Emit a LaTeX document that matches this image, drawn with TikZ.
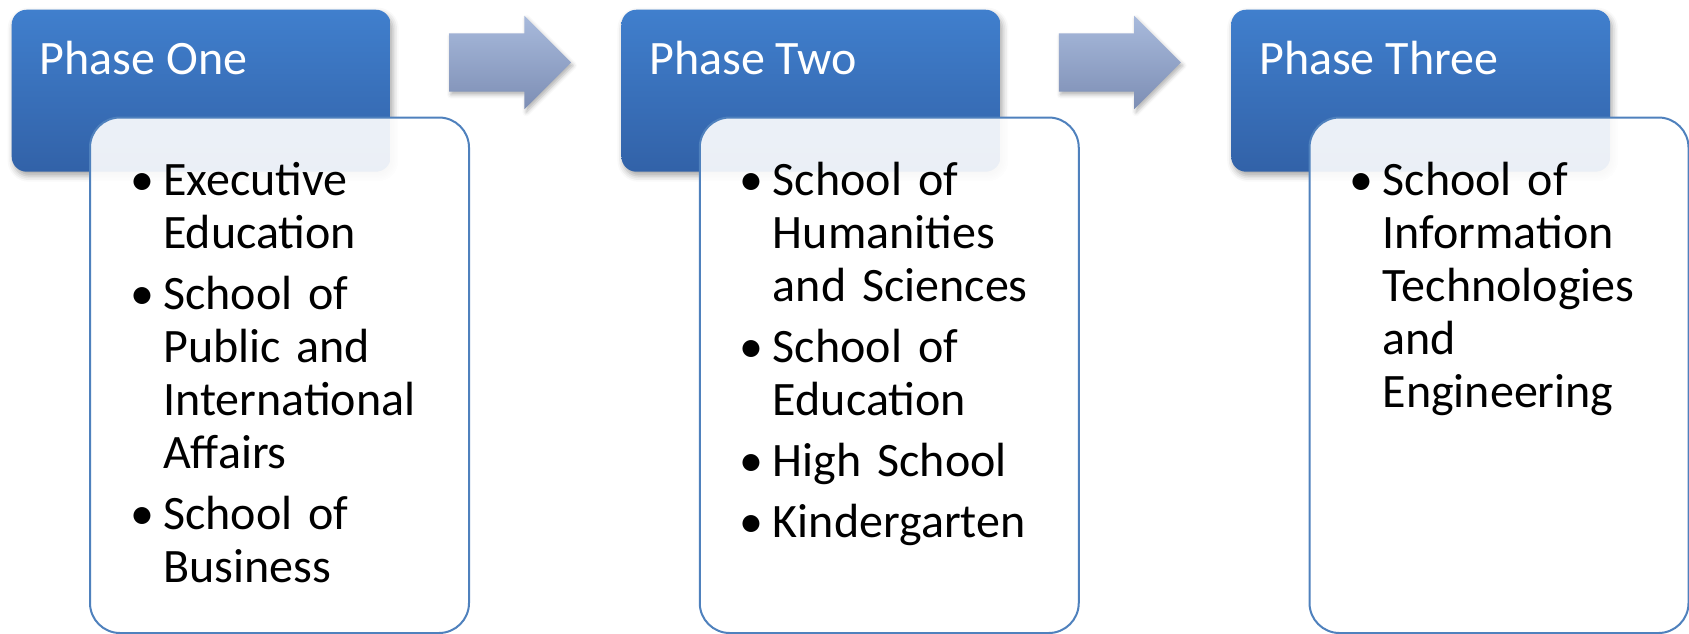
\documentclass[tikz,border=0pt]{standalone}
\usepackage{fontspec}
\setmainfont{Carlito}
\usetikzlibrary{shapes.arrows,calc,shadows.blur}

\definecolor{headtop}{RGB}{64,127,205}
\definecolor{headbottom}{RGB}{50,98,168}
\definecolor{bodyline}{RGB}{79,129,189}
\definecolor{arrowtop}{RGB}{168,186,220}
\definecolor{arrowbottom}{RGB}{125,142,180}

\newcommand{\phaseitem}[1]{\hangindent=33pt\hangafter=1\noindent\makebox[33pt][l]{\textbullet}#1\par}

\begin{document}
\begin{tikzpicture}[x=1pt,y=-1pt,
    phasehead/.style ={rectangle, rounded corners=15pt, draw=none,
      top color=headtop, bottom color=headbottom,
      minimum width=379pt, minimum height=162pt, inner sep=0pt,
      blur shadow={shadow xshift=2pt, shadow yshift=-4pt,
        shadow blur radius=6pt, shadow opacity=35}},
    headtext/.style ={text=white, inner sep=0pt,
      font=\fontsize{48}{55}\selectfont},
    phasebody/.style ={rectangle, rounded corners=30pt, draw=bodyline,
      line width=2pt, fill=white, fill opacity=0.9, draw opacity=1,
      minimum width=379pt, minimum height=515.5pt, inner sep=0pt},
    bodytext/.style ={text width=330pt, inner sep=0pt,
      font=\fontsize{48}{53}\selectfont,
      execute at begin node={\raggedright\setlength{\parskip}{8pt}}},
    phasearrow/.style ={single arrow, draw=none,
      top color=arrowtop, bottom color=arrowbottom,
      minimum height=122pt, inner xsep=0pt, inner ysep=29pt,
      single arrow head extend=17.5pt, single arrow tip angle=90,
      single arrow head indent=0pt,
      blur shadow={shadow xshift=2pt, shadow yshift=-3pt,
        shadow blur radius=4pt, shadow opacity=30}}]
    \useasboundingbox (0,0) rectangle (1689,633);

    % phase one
    \node [phasehead, anchor=north west] (head1) at (11.5,9.5) {};
    \node [headtext, anchor=base west] (title1) at ($(head1.north west)+(28,65)$) {Phase One};
    \node [phasebody, anchor=north west] (body1) at ($(head1.north west)+(77.5,107)$) {};
    \node [bodytext, anchor=base west] (list1) at ($(body1.north west)+(41,78.5)$) {%
      \phaseitem{Executive\newline Education}%
      \phaseitem{School of\newline Public and\newline International\newline Affairs}%
      \phaseitem{School of\newline Business}};

    \node [phasearrow] (arrow1) at ($(head1.north east)+(104.5,53)$) {};

    % phase two
    \node [phasehead, anchor=north west] (head2) at ($(head1.north west)+(609.75,0)$) {};
    \node [headtext, anchor=base west] (title2) at ($(head2.north west)+(28,65)$) {Phase Two};
    \node [phasebody, anchor=north west] (body2) at ($(head2.north west)+(77.5,107)$) {};
    \node [bodytext, anchor=base west] (list2) at ($(body2.north west)+(41,78.5)$) {%
      \phaseitem{School of\newline Humanities\newline and Sciences}%
      \phaseitem{School of\newline Education}%
      \phaseitem{High School}%
      \phaseitem{Kindergarten}};

    \node [phasearrow] (arrow2) at ($(head2.north east)+(104.5,53)$) {};

    % phase three
    \node [phasehead, anchor=north west] (head3) at ($(head2.north west)+(609.75,0)$) {};
    \node [headtext, anchor=base west] (title3) at ($(head3.north west)+(28,65)$) {Phase Three};
    \node [phasebody, anchor=north west] (body3) at ($(head3.north west)+(77.5,107)$) {};
    \node [bodytext, anchor=base west] (list3) at ($(body3.north west)+(41,78.5)$) {%
      \phaseitem{School of\newline Information\newline Technologies\newline and\newline Engineering}};
\end{tikzpicture}
\end{document}
